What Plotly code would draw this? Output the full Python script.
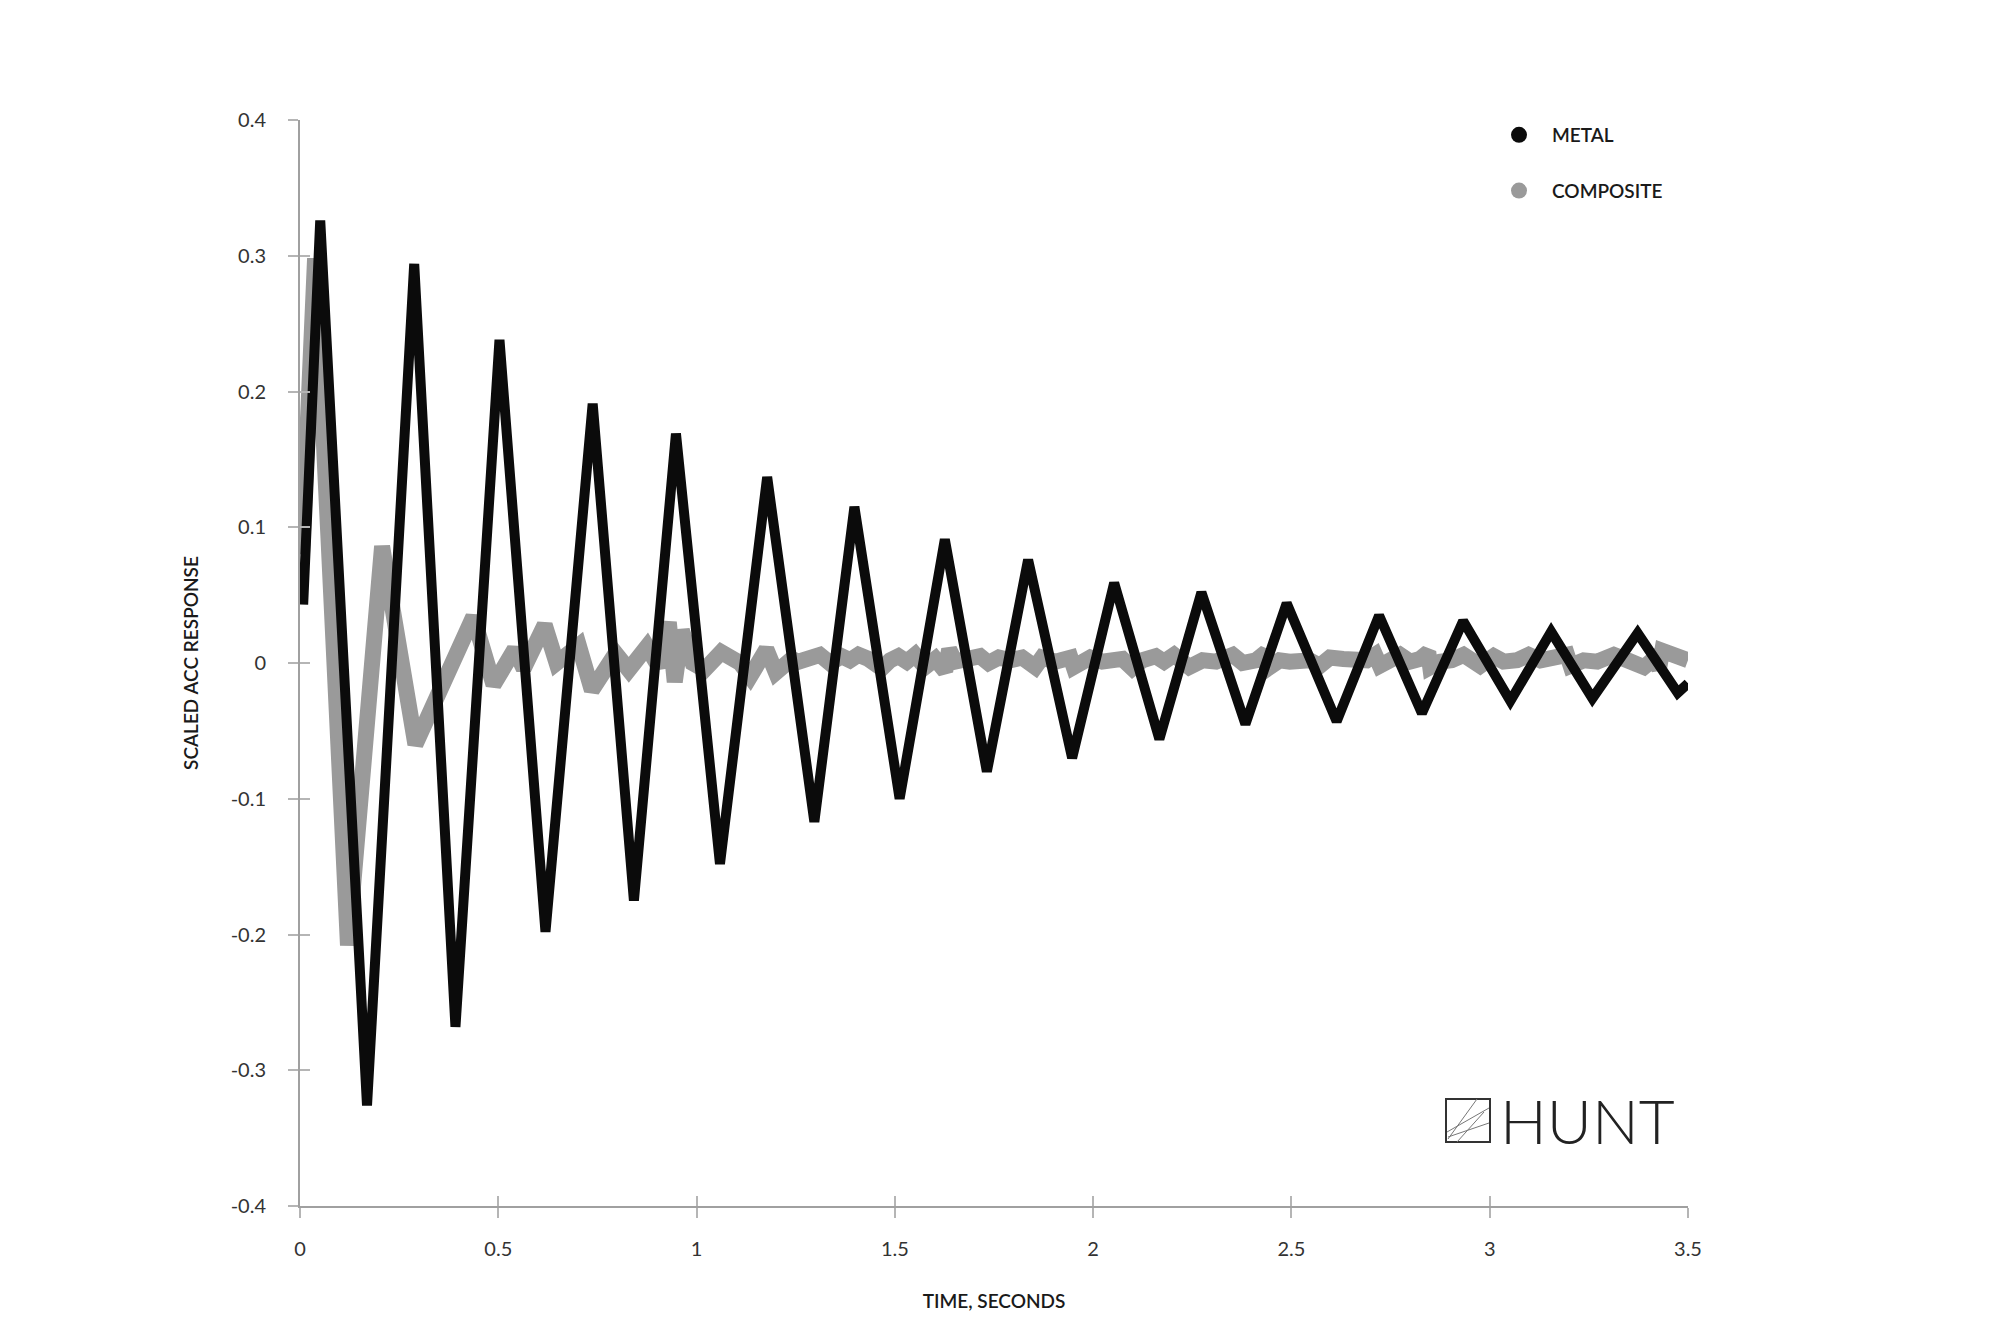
import plotly.graph_objects as go

# ---------------- data ----------------
metal_t = [0.008, 0.051, 0.169, 0.288, 0.392, 0.503, 0.619, 0.738, 0.842, 0.948,
           1.059, 1.178, 1.297, 1.398, 1.512, 1.626, 1.732, 1.836, 1.947, 2.053,
           2.167, 2.273, 2.384, 2.488, 2.614, 2.721, 2.829, 2.933, 3.052, 3.155,
           3.259, 3.373, 3.474, 3.500]
metal_v = [0.043, 0.326, -0.326, 0.294, -0.268, 0.238, -0.198, 0.191, -0.175, 0.169,
           -0.148, 0.137, -0.117, 0.115, -0.100, 0.091, -0.080, 0.076, -0.070, 0.059,
           -0.056, 0.052, -0.045, 0.044, -0.043, 0.035, -0.037, 0.031, -0.028, 0.023,
           -0.026, 0.022, -0.022, -0.015]

comp_t = [0.005, 0.038, 0.121, 0.207, 0.291, 0.437, 0.488, 0.541, 0.564, 0.617,
          0.647, 0.703, 0.736, 0.796, 0.829, 0.875, 0.905, 0.930, 0.945, 0.963,
          0.990, 1.020, 1.062, 1.110, 1.135, 1.176, 1.200, 1.240, 1.257, 1.282,
          1.311, 1.336, 1.366, 1.387, 1.408, 1.433, 1.467, 1.488, 1.509, 1.530,
          1.551, 1.576, 1.602, 1.627, 1.637, 1.652, 1.686, 1.715, 1.736, 1.762,
          1.791, 1.821, 1.854, 1.871, 1.905, 1.943, 1.951, 1.972, 1.993, 2.023,
          2.048, 2.074, 2.099, 2.124, 2.158, 2.179, 2.204, 2.242, 2.276, 2.310,
          2.352, 2.377, 2.411, 2.436, 2.440, 2.470, 2.496, 2.521, 2.546, 2.572,
          2.597, 2.631, 2.664, 2.690, 2.711, 2.723, 2.749, 2.774, 2.799, 2.824,
          2.845, 2.850, 2.875, 2.904, 2.934, 2.959, 2.976, 3.010, 3.035, 3.069,
          3.098, 3.128, 3.162, 3.195, 3.204, 3.237, 3.271, 3.313, 3.347, 3.389,
          3.414, 3.427, 3.435, 3.456, 3.482, 3.500]
comp_v = [0.080, 0.298, -0.208, 0.086, -0.060, 0.034, -0.016, 0.010, -0.004, 0.028,
          0.000, 0.013, -0.020, 0.007, -0.005, 0.012, -0.003, 0.030, -0.014, 0.024,
          0.000, -0.005, 0.008, 0.000, -0.010, 0.010, -0.007, 0.003, 0.001, 0.003,
          0.006, 0.000, 0.005, 0.002, 0.006, 0.003, -0.004, 0.002, 0.005, 0.001,
          0.006, -0.003, 0.003, -0.006, 0.010, 0.001, 0.002, 0.005, 0.000, 0.004,
          0.002, 0.004, -0.003, 0.004, 0.001, 0.004, -0.003, 0.002, 0.004, 0.001,
          0.003, 0.003, -0.004, 0.002, 0.005, 0.001, 0.006, -0.003, 0.002, 0.001,
          0.006, 0.000, 0.002, 0.008, -0.004, 0.002, 0.001, 0.003, 0.002, -0.002,
          0.004, 0.003, 0.004, 0.002, 0.006, -0.002, 0.002, 0.006, 0.001, 0.003,
          0.008, -0.003, 0.001, 0.002, 0.006, 0.002, -0.002, 0.005, 0.001, 0.002,
          0.006, 0.002, 0.003, 0.006, -0.002, 0.002, 0.001, 0.006, 0.002, -0.003,
          0.003, -0.004, 0.009, 0.006, 0.003, 0.002]

series_names = ["METAL", "COMPOSITE"]

x_tick_vals = [0, 0.5, 1, 1.5, 2, 2.5, 3, 3.5]
x_tick_text = ["0", "0.5", "1", "1.5", "2", "2.5", "3", "3.5"]
y_tick_vals = [-0.4, -0.3, -0.2, -0.1, 0, 0.1, 0.2, 0.3, 0.4]
y_tick_text = ["-0.4", "-0.3", "-0.2", "-0.1", "0", "0.1", "0.2", "0.3", "0.4"]

x_title = "TIME, SECONDS"
y_title = "SCALED ACC RESPONSE"
logo_text = "HUNT"

# ---------------- styling / layout geometry ----------------
# the page body adds an 8px offset; figure is sized so the plot lands where
# the reference has it inside the 2000x1333 window
OFF = 8
W, H = 2000 - OFF, 1333 - OFF
PLOT_L, PLOT_R, PLOT_T, PLOT_B = 300, 1688, 120, 1206   # window pixels
ML, MT = PLOT_L - OFF, PLOT_T - OFF
MR, MB = W - (PLOT_R - OFF), H - (PLOT_B - OFF)
PW, PH = PLOT_R - PLOT_L, PLOT_B - PLOT_T

METAL_COLOR = "#0b0b0b"
COMP_COLOR = "#9a9a9a"
AXIS_COLOR = "#a0a0a0"
TICK_COLOR = "#b5b5b5"
TEXT_COLOR = "#2a2a2a"
FONT = "Lato"


def px_x(px):   # window pixel -> paper
    return (px - PLOT_L) / PW


def px_y(py):
    return (PLOT_B - py) / PH


fig = go.Figure()

# composite (drawn below)
fig.add_trace(go.Scatter(
    x=comp_t, y=comp_v, mode="lines", name=series_names[1],
    legendgroup="comp", showlegend=False,
    line=dict(color=COMP_COLOR, width=16), hoverinfo="skip"))
# metal
fig.add_trace(go.Scatter(
    x=metal_t, y=metal_v, mode="lines", name=series_names[0],
    legendgroup="metal", showlegend=False,
    line=dict(color=METAL_COLOR, width=10), hoverinfo="skip"))

# legend entries (circle symbols), placed on the overlay axes
fig.add_trace(go.Scatter(
    x=[None], y=[None], mode="markers", name=series_names[0],
    legendgroup="metal", legendrank=1, xaxis="x2", yaxis="y2",
    marker=dict(color=METAL_COLOR, size=16)))
fig.add_trace(go.Scatter(
    x=[None], y=[None], mode="markers", name=series_names[1],
    legendgroup="comp", legendrank=2, xaxis="x2", yaxis="y2",
    marker=dict(color=COMP_COLOR, size=16)))

axis_common = dict(showgrid=False, zeroline=False)
title_font = dict(family=FONT, size=19, color="#1a1a1a", weight=600)
tick_font = dict(family=FONT, size=20, color="#333333")

fig.update_layout(
    width=W, height=H,
    margin=dict(l=ML, r=MR, t=MT, b=MB, autoexpand=False),
    paper_bgcolor="white", plot_bgcolor="white",
    font=dict(family=FONT, color=TEXT_COLOR),
    showlegend=True,
    legend=dict(
        x=px_x(1486), y=px_y(116), xanchor="left", yanchor="top",
        bgcolor="rgba(0,0,0,0)", borderwidth=0,
        font=dict(family=FONT, size=19, color="#1a1a1a", weight=600),
        tracegroupgap=28, itemsizing="trace", itemwidth=56,
    ),
    xaxis=dict(
        range=[0, 3.5], tickmode="array", tickvals=x_tick_vals, ticktext=x_tick_text,
        ticks="outside", ticklen=10, tickwidth=1.5, tickcolor=TICK_COLOR,
        showline=True, linecolor=AXIS_COLOR, linewidth=2,
        tickfont=tick_font, ticklabelstandoff=14,
        title=dict(text=x_title, standoff=36, font=title_font),
        **axis_common),
    yaxis=dict(
        range=[-0.4, 0.4], tickmode="array", tickvals=y_tick_vals, ticktext=y_tick_text,
        ticks="outside", ticklen=10, tickwidth=1.5, tickcolor=TICK_COLOR,
        showline=True, linecolor=AXIS_COLOR, linewidth=2,
        tickfont=tick_font, ticklabelstandoff=18,
        title=dict(text=y_title, standoff=27, font=title_font),
        **axis_common),
    xaxis2=dict(
        range=[0, 3.5], overlaying="x", anchor="y2", side="bottom",
        tickmode="array", tickvals=x_tick_vals, ticks="inside", ticklen=10,
        tickwidth=1.5, tickcolor=TICK_COLOR, showticklabels=False, showline=False,
        **axis_common),
    yaxis2=dict(
        range=[-0.4, 0.4], overlaying="y", anchor="x2", side="left",
        tickmode="array", tickvals=y_tick_vals, ticks="inside", ticklen=10,
        tickwidth=1.5, tickcolor=TICK_COLOR, showticklabels=False, showline=False,
        **axis_common),
)

# ---------------- HUNT logo ----------------
shapes = [dict(type="rect", xref="paper", yref="paper",
               x0=px_x(1446), x1=px_x(1490), y0=px_y(1142), y1=px_y(1099),
               line=dict(color="#333333", width=2), fillcolor="rgba(0,0,0,0)")]
logo_strokes = [((1477, 1099), (1448, 1139)),
                ((1489, 1108), (1447, 1132)),
                ((1489, 1123), (1448, 1137)),
                ((1484, 1112), (1457, 1142))]
for (a, b) in logo_strokes:
    shapes.append(dict(type="line", xref="paper", yref="paper",
                       x0=px_x(a[0]), y0=px_y(a[1]), x1=px_x(b[0]), y1=px_y(b[1]),
                       line=dict(color="#777777", width=1)))
fig.update_layout(shapes=shapes)

fig.add_annotation(
    text=logo_text, xref="paper", yref="paper",
    x=px_x(1498), y=px_y(1120), xanchor="left", yanchor="middle",
    showarrow=False,
    font=dict(family=FONT, size=62, color="#222222", weight=300))

fig.write_html("out.html")
